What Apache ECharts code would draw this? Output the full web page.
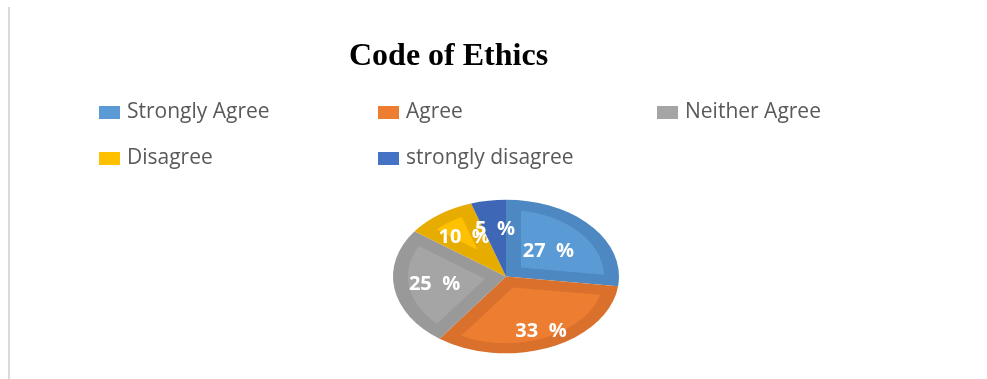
<!DOCTYPE html>
<html>
<head>
<meta charset="utf-8">
<script src="https://cdn.jsdelivr.net/npm/echarts@6/dist/echarts.min.js"></script>
<style>
  html, body { margin: 0; padding: 0; background: #ffffff; }
  #chart { width: 987px; height: 379px; }
</style>
</head>
<body>
<div id="chart"></div>
<script>
// Survey responses on the code of ethics (percent of respondents)
const categories = ['Strongly Agree', 'Agree', 'Neither Agree', 'Disagree', 'strongly disagree'];
const values = [27, 33, 25, 10, 5];

// Face colour (inner, lighter) and bevel rim colour for each slice
const faceColors = ['#5B9BD5', '#ED7D31', '#A5A5A5', '#FFC000', '#4472C4'];
const rimColors  = ['#4E88C2', '#D9712D', '#999999', '#E6AC00', '#3E68B6'];

// Label distance from centre, as a fraction of the radius
const labelRadius = [0.50, 0.78, 0.64, 0.63, 0.62];

// Tilted pie geometry
const PIE = { cx: 506, cy: 276.5, r: 113, tilt: 0.68, rim: 15 };

const total = values.reduce((a, b) => a + b, 0);

function sliceRenderer(idx) {
  return function (params, api) {
    const v = api.value(0);
    const before = values.slice(0, idx).reduce((a, b) => a + b, 0);
    const a0 = before / total * Math.PI * 2;
    const a1 = a0 + v / total * Math.PI * 2;
    const R = PIE.r, d = PIE.rim;

    const children = [{
      type: 'sector',
      shape: { cx: 0, cy: 0, r0: 0, r: R,
               startAngle: a0 - Math.PI / 2, endAngle: a1 - Math.PI / 2, clockwise: true },
      style: { fill: rimColors[idx] }
    }];

    // Inset face of the bevelled slice
    const half = (a1 - a0) / 2;
    const mid = a0 + half;
    const apexDist = d / Math.sin(Math.min(half, Math.PI / 2));
    const rIn = R - d;
    if (apexDist < rIn) {
      const delta = Math.asin(d / rIn);
      const pts = [[apexDist * Math.sin(mid), -apexDist * Math.cos(mid)]];
      const s = a0 + delta, e = a1 - delta;
      const steps = 40;
      for (let k = 0; k <= steps; k++) {
        const t = s + (e - s) * k / steps;
        pts.push([rIn * Math.sin(t), -rIn * Math.cos(t)]);
      }
      children.push({ type: 'polygon', shape: { points: pts }, style: { fill: faceColors[idx] } });
    }

    const lr = labelRadius[idx] * R;
    return {
      type: 'group',
      children: [
        { type: 'group', x: PIE.cx, y: PIE.cy, scaleY: PIE.tilt, children: children },
        {
          type: 'text',
          x: PIE.cx + lr * Math.sin(mid),
          y: PIE.cy - lr * Math.cos(mid) * PIE.tilt,
          style: {
            text: v + '  %',
            fill: '#ffffff',
            font: 'bold 20px "Open Sans"',
            align: 'center',
            verticalAlign: 'middle'
          }
        }
      ]
    };
  };
}

const chart = echarts.init(document.getElementById('chart'), null, { renderer: 'canvas' });

chart.setOption({
  animation: false,
  backgroundColor: '#ffffff',
  title: {
    text: 'Code of Ethics',
    left: 349,
    top: 41,
    padding: 0,
    textStyle: { fontFamily: '"Liberation Serif", "Times New Roman", serif', fontWeight: 'bold', fontSize: 32, color: '#000000' }
  },
  legend: {
    left: 99,
    top: 90,
    width: 870,
    padding: 0,
    itemGap: 1,
    itemWidth: 21,
    itemHeight: 13,
    icon: 'rect',
    selectedMode: false,
    data: categories,
    textStyle: {
      fontFamily: '"Open Sans", sans-serif',
      fontSize: 21,
      color: '#595959',
      width: 250,
      lineHeight: 42,
      padding: [3, 0, 0, 2]
    }
  },
  graphic: [{
    type: 'line',
    shape: { x1: 9, y1: 7, x2: 9, y2: 379 },
    style: { stroke: '#d9d9d9', lineWidth: 2 }
  }],
  series: categories.map((name, i) => ({
    type: 'custom',
    name: name,
    coordinateSystem: 'none',
    silent: true,
    itemStyle: { color: faceColors[i] },
    data: [values[i]],
    renderItem: sliceRenderer(i)
  }))
});
</script>
</body>
</html>
